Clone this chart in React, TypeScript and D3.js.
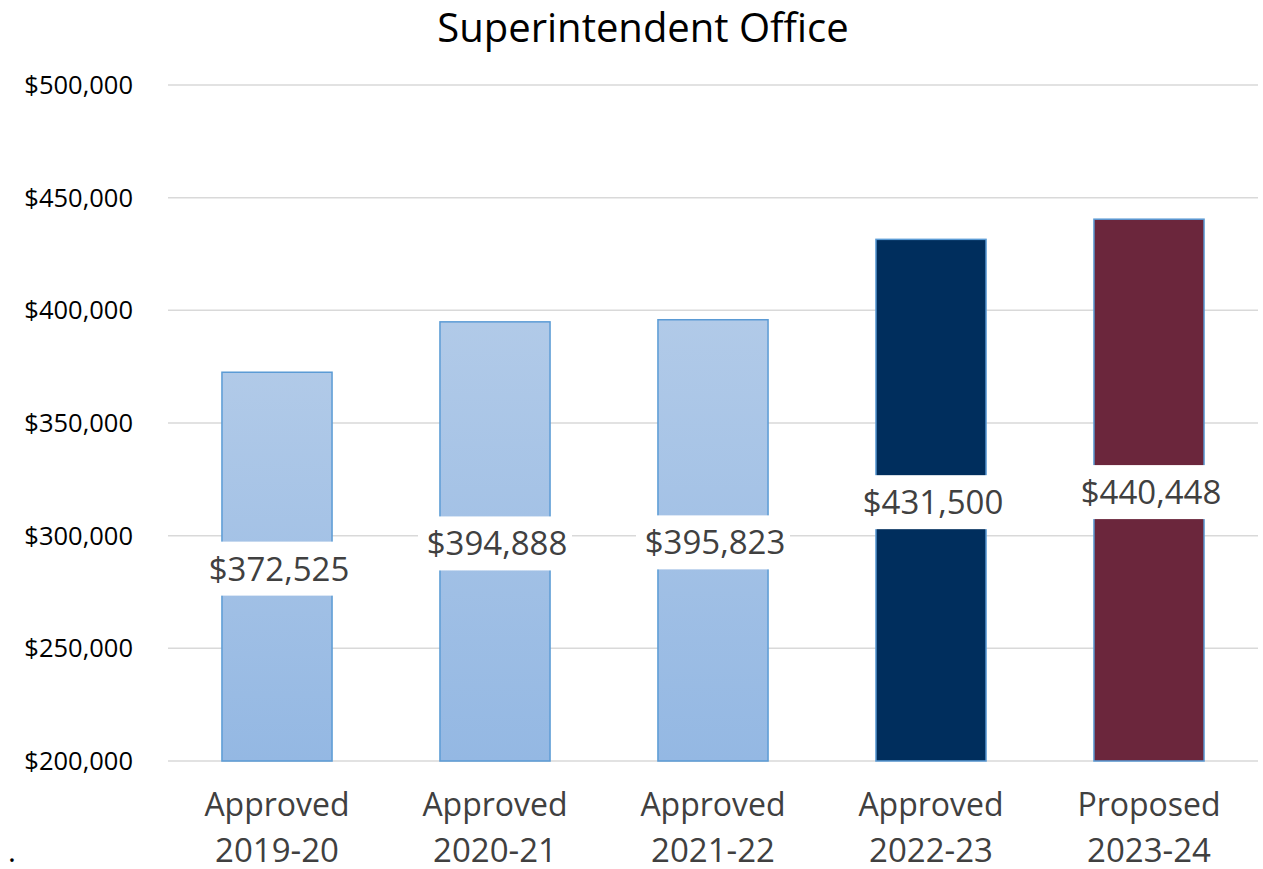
import React from "react";
import * as d3 from "d3";

const statuses = ["Approved", "Approved", "Approved", "Approved", "Proposed"];
const years = ["2019-20", "2020-21", "2021-22", "2022-23", "2023-24"];
const values = [372525, 394888, 395823, 431500, 440448];
const fills = ["url(#lightBlue)", "url(#lightBlue)", "url(#lightBlue)", "#002e5d", "#6b263c"];
const yTicks = [200000, 250000, 300000, 350000, 400000, 450000, 500000];

const W = 1263;
const H = 869;
const FONT = "'Open Sans', 'Noto Sans', sans-serif";

export default function App() {
  const x = d3
    .scaleBand<number>()
    .domain(d3.range(values.length))
    .range([168, 1258])
    .paddingInner(0.495)
    .paddingOuter(0.2475);
  const y = d3.scaleLinear().domain([200000, 500000]).range([761, 85]);
  const fmt = d3.format("$,.0f");

  return (
    <svg
      width={W}
      height={H}
      style={{ position: "absolute", left: 0, top: 0, background: "#fff" }}
      fontFamily={FONT}
    >
      <defs>
        <linearGradient id="lightBlue" x1="0" y1="0" x2="0" y2="1">
          <stop offset="0" stopColor="#b1cae8" />
          <stop offset="1" stopColor="#94b8e3" />
        </linearGradient>
      </defs>
      <rect x={0} y={0} width={W} height={H} fill="#fff" />
      <text x={643} y={42} textAnchor="middle" fontSize={40} fill="#000">
        Superintendent Office
      </text>
      {yTicks.map((t) => (
        <g key={t}>
          <line x1={168} x2={1258} y1={y(t)} y2={y(t)} stroke="#d9d9d9" strokeWidth={1.5} />
          <text x={133} y={y(t)} dy="0.35em" textAnchor="end" fontSize={25.5} fill="#000">
            {fmt(t)}
          </text>
        </g>
      ))}
      {values.map((v, i) => (
        <rect
          key={"b" + i}
          x={x(i)}
          y={y(v)}
          width={x.bandwidth()}
          height={y(200000) - y(v)}
          fill={fills[i]}
          stroke="#5b9bd5"
          strokeWidth={1.5}
        />
      ))}
      {values.map((v, i) => {
        const cx = (x(i) as number) + x.bandwidth() / 2;
        const cy = (y(v) + y(200000)) / 2 + 2;
        return (
          <g key={"l" + i}>
            <rect x={cx - 77} y={cy - 27} width={154} height={54} fill="#fff" />
            <text x={cx + 2} y={cy} dy="0.36em" textAnchor="middle" fontSize={33} fill="#404040">
              {fmt(v)}
            </text>
          </g>
        );
      })}
      {values.map((v, i) => {
        const cx = (x(i) as number) + x.bandwidth() / 2;
        return (
          <g key={"c" + i}>
            <text x={cx} y={816} textAnchor="middle" fontSize={32} fill="#404040">
              {statuses[i]}
            </text>
            <text x={cx} y={862} textAnchor="middle" fontSize={33} fill="#404040">
              {years[i]}
            </text>
          </g>
        );
      })}
      <text x={8} y={862} fontSize={30} fill="#000">.</text>
    </svg>
  );
}
